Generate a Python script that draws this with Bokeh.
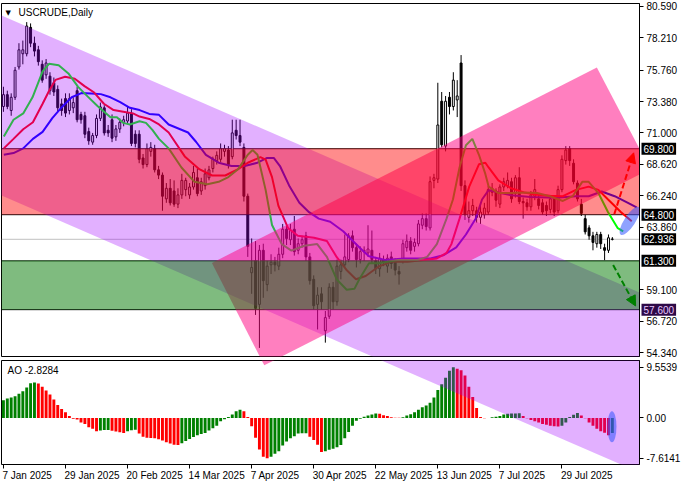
from bokeh.plotting import figure
from bokeh.layouts import column
from bokeh.models import (FixedTicker, LinearAxis, Range1d, Label, Arrow, NormalHead,
                          PrintfTickFormatter, Span)
from bokeh.embed import file_html
from bokeh.resources import INLINE

# ---------------- data ----------------
opens = [73.0, 73.9, 72.7, 73.7, 76.0, 77.0, 77.0, 79.0, 77.8, 77.3,
         76.2, 75.4, 75.3, 74.8, 74.3, 73.2, 73.6, 72.7, 72.9, 74.2,
         72.4, 72.3, 71.1, 70.3, 70.8, 72.1, 72.9, 71.2, 72.0, 70.7,
         71.3, 71.8, 71.9, 72.5, 70.9, 70.9, 69.1, 68.6, 69.6, 69.8,
         68.2, 67.8, 66.0, 66.8, 66.6, 65.6, 66.3, 66.7, 66.3, 66.9,
         67.6, 66.6, 67.0, 67.6, 68.3, 68.9, 69.0, 69.6, 69.7, 69.2,
         71.2, 70.8, 69.9, 66.2, 60.4, 61.3, 58.0, 62.1, 59.5, 61.0,
         61.2, 60.9, 61.8, 63.7, 62.9, 63.7, 62.1, 62.6, 63.2, 61.6,
         59.9, 58.0, 58.8, 56.0, 57.1, 59.3, 58.2, 60.5, 61.0, 61.4,
         63.2, 62.3, 61.4, 62.0, 61.9, 62.1, 61.3, 60.7, 61.4, 60.9,
         61.6, 61.3, 60.5, 61.4, 62.3, 62.8, 62.4, 62.6, 64.0, 64.5,
         63.8, 67.4, 67.5, 73.4, 70.0, 73.7, 73.0, 73.5, 76.3, 67.0,
         64.6, 65.1, 65.1, 64.6, 64.8, 65.0, 66.5, 66.6, 65.6, 66.9,
         67.0, 67.3, 66.4, 67.6, 65.8, 65.7, 65.4, 66.2, 66.0, 65.7,
         65.5, 65.2, 66.0, 65.1, 66.7, 68.9, 69.8, 68.7, 67.2, 65.6,
         64.5, 63.8, 63.2, 62.6, 63.3, 62.3, 62.1, 62.95]
highs = [74.5, 74.2, 74.0, 76.0, 77.8, 78.0, 79.4, 79.3, 78.3, 77.6,
         76.5, 76.6, 75.6, 75.2, 74.6, 73.6, 74.0, 74.0, 73.7, 74.5,
         72.6, 72.6, 71.4, 71.0, 72.4, 73.3, 73.1, 71.6, 72.4, 71.6,
         72.1, 72.3, 73.0, 72.8, 71.2, 71.2, 69.4, 70.2, 70.3, 70.1,
         68.5, 68.0, 67.2, 67.5, 67.4, 66.8, 67.9, 67.6, 67.2, 68.5,
         68.3, 67.6, 68.3, 68.5, 69.2, 69.6, 70.2, 70.1, 70.0, 72.0,
         72.0, 72.0, 70.2, 66.4, 63.0, 62.8, 62.5, 62.6, 61.3, 61.8,
         61.6, 62.3, 64.1, 64.0, 64.1, 64.7, 63.0, 63.2, 63.5, 61.9,
         60.2, 59.3, 59.3, 57.5, 59.6, 59.7, 61.4, 61.4, 63.3, 63.4,
         63.6, 62.6, 62.4, 62.4, 64.0, 63.6, 61.6, 61.9, 61.7, 61.8,
         62.0, 61.5, 60.9, 62.9, 63.3, 63.1, 63.0, 64.4, 64.9, 64.9,
         67.7, 67.9, 74.8, 74.1, 73.8, 74.1, 75.6, 75.0, 76.9, 67.4,
         65.8, 66.0, 65.4, 65.5, 65.7, 67.0, 67.2, 66.8, 67.1, 67.6,
         68.0, 67.6, 67.8, 68.4, 66.1, 66.0, 66.6, 67.5, 66.3, 66.0,
         65.8, 66.3, 66.2, 67.0, 69.3, 70.0, 70.0, 69.0, 67.4, 66.0,
         64.8, 64.0, 63.5, 63.5, 63.5, 62.6, 63.3, 63.1]
lows = [72.6, 72.8, 72.3, 73.5, 75.8, 76.2, 76.8, 77.5, 76.8, 76.1,
        74.8, 75.1, 73.9, 73.8, 72.6, 72.3, 72.2, 72.4, 72.5, 71.8,
        71.7, 70.6, 70.1, 70.1, 70.6, 71.9, 70.8, 70.7, 70.3, 70.4,
        71.0, 71.5, 71.7, 70.0, 69.9, 68.7, 68.3, 68.4, 69.2, 68.0,
        67.5, 65.1, 65.7, 65.5, 65.4, 65.3, 66.0, 66.2, 66.0, 66.7,
        66.2, 66.3, 66.7, 67.4, 68.0, 68.6, 68.8, 69.2, 68.3, 69.0,
        70.5, 70.0, 65.8, 61.6, 58.8, 57.2, 54.7, 58.5, 59.0, 60.3,
        60.5, 60.6, 61.5, 62.5, 62.5, 61.7, 61.8, 62.3, 61.3, 59.5,
        57.6, 56.1, 57.6, 55.1, 56.9, 57.6, 57.9, 59.9, 60.8, 61.2,
        62.0, 60.8, 61.1, 61.3, 61.6, 61.1, 60.3, 60.1, 60.9, 60.4,
        60.7, 60.2, 59.5, 61.1, 62.0, 61.8, 62.0, 62.4, 63.7, 63.6,
        63.6, 66.8, 67.2, 69.9, 69.6, 72.4, 72.7, 72.2, 66.6, 64.4,
        64.2, 64.7, 64.2, 64.1, 64.5, 64.8, 66.2, 65.4, 65.3, 66.6,
        66.8, 65.7, 66.1, 65.6, 64.5, 65.1, 65.1, 65.9, 65.2, 64.8,
        64.7, 64.9, 64.7, 64.9, 66.5, 68.6, 68.5, 67.1, 65.8, 64.7,
        63.3, 62.9, 62.1, 62.3, 62.2, 61.35, 61.9, 62.85]
closes = [73.9, 73.0, 73.7, 75.75, 77.3, 77.3, 79.1, 77.8, 77.2, 76.4,
          75.0, 76.3, 74.2, 74.1, 72.9, 72.7, 72.5, 73.6, 73.3, 72.0,
          72.0, 70.9, 70.4, 70.8, 72.1, 72.97, 71.0, 71.0, 70.6, 71.3,
          71.8, 72.0, 72.5, 70.2, 70.2, 69.0, 68.6, 69.8, 69.9, 68.2,
          67.8, 66.2, 66.8, 65.7, 65.6, 66.3, 67.4, 67.4, 66.9, 68.0,
          66.4, 67.3, 67.9, 68.2, 69.0, 69.3, 69.8, 69.8, 68.6, 71.0,
          70.8, 70.3, 66.2, 62.4, 60.8, 57.7, 62.1, 59.8, 60.9, 61.2,
          61.0, 61.8, 63.7, 63.0, 63.6, 62.0, 62.6, 62.9, 61.6, 59.8,
          57.9, 58.7, 58.2, 57.0, 59.3, 58.2, 60.9, 61.0, 61.6, 63.2,
          62.3, 61.4, 62.0, 62.1, 62.2, 61.4, 60.7, 61.5, 61.2, 61.5,
          61.1, 60.6, 60.3, 62.6, 62.8, 62.1, 62.7, 64.1, 64.5, 63.9,
          67.3, 67.6, 71.6, 70.1, 73.4, 73.0, 75.0, 73.8, 67.0, 64.8,
          65.1, 65.5, 64.6, 65.0, 65.3, 66.7, 66.8, 65.9, 66.9, 67.3,
          67.4, 66.0, 67.6, 65.8, 65.7, 65.4, 66.3, 66.7, 65.5, 65.0,
          65.1, 66.0, 65.0, 66.7, 69.0, 69.7, 68.9, 67.3, 66.0, 64.9,
          63.5, 63.2, 62.7, 63.3, 62.6, 62.1, 63.05, 62.936]

ao_values = [3.36, 3.66, 3.84, 4.08, 4.56, 5.05, 5.77, 6.55, 6.67, 6.49,
             5.89, 5.17, 4.44, 3.48, 2.46, 1.68, 1.08, 0.36, -0.12, -0.30,
             -0.84, -1.14, -1.74, -2.04, -2.52, -2.34, -2.28, -2.26, -2.40, -2.55,
             -2.70, -2.82, -2.50, -2.30, -2.22, -2.94, -3.54, -3.72, -3.78, -3.84,
             -4.02, -4.26, -4.56, -4.80, -5.05, -5.10, -4.74, -4.32, -3.96, -3.60,
             -3.24, -3.00, -2.82, -2.34, -1.92, -1.44, -0.60, -0.24, 0.18, 0.66,
             1.26, 1.56, 1.26, 0.18, -1.56, -3.72, -5.95, -7.33, -7.6141, -7.33,
             -6.73, -6.25, -5.17, -4.44, -3.84, -3.42, -2.94, -2.90, -2.86, -3.54,
             -4.14, -5.05, -6.40, -6.25, -6.00, -5.80, -5.50, -5.10, -3.84, -2.64,
             -1.44, -0.54, -0.12, 0.24, 0.48, 0.66, 0.84, 0.78, 0.54, 0.36,
             0.12, 0.06, 0.04, 0.12, 0.48, 0.72, 1.08, 1.56, 2.04, 2.34,
             2.88, 3.84, 5.29, 6.37, 7.57, 8.89, 9.5539, 9.30, 9.00, 8.00,
             5.90, 3.96, 1.86, 0.18, -0.06, 0.02, 0.12, 0.24, 0.36, 0.66,
             0.80, 0.84, 0.86, 0.88, 0.36, -0.06, -0.36, -0.60, -0.84, -1.14,
             -1.26, -1.44, -1.56, -1.60, -1.44, -0.84, 0.18, 0.60, 0.96, 0.48,
             -0.05, -0.84, -1.44, -2.04, -2.52, -2.76, -3.24, -2.8284]

# Alligator lines (bar index, price)
jaw_i = [0.1, 2.6, 5.1, 7.6, 10.1, 12.6, 15.1, 17.6, 20.1, 22.6,
         25.1, 27.6, 30.1, 32.6, 35.1, 37.6, 40.1, 42.6, 47.6, 49.7,
         52.2, 55.5, 58.8, 62.2, 65.5, 68.0, 69.7, 71.3, 73.8, 76.3,
         78.8, 81.3, 84.25, 87.6, 90.1, 92.6, 94.25, 98.4, 103.4, 110.1,
         113.4, 116.75, 119.25, 121.75, 123.4, 125.1, 127.6, 130.9, 135.9, 142.6,
         147.6, 150.9, 154.25, 157.6, 160.9, 163.25]
jaw_p = [69.34, 69.47, 69.83, 70.55, 71.08, 72.12, 72.97, 73.70, 74.02, 73.99,
         73.94, 73.70, 73.33, 72.90, 72.73, 72.44, 72.37, 71.64, 71.03, 70.31,
         69.34, 68.74, 68.49, 68.49, 68.74, 69.10, 69.10, 68.49, 66.93, 65.71,
         64.99, 64.50, 64.26, 63.54, 62.81, 62.08, 61.65, 61.36, 61.48, 61.48,
         61.72, 62.32, 63.30, 64.50, 65.95, 66.66, 66.49, 66.27, 66.15, 66.08,
         66.20, 66.20, 66.56, 66.20, 65.71, 65.35]
teeth_i = [0.1, 2.6, 5.1, 7.6, 10.1, 11.75, 13.4, 15.9, 18.4, 20.9,
           23.4, 25.9, 28.4, 30.9, 33.4, 35.1, 37.6, 40.1, 42.6, 46.75,
           50.5, 53.8, 57.2, 60.5, 63.0, 66.25, 67.6, 69.25, 70.9, 73.4,
           75.9, 80.1, 83.4, 85.9, 88.4, 90.9, 93.4, 96.75, 100.1, 104.25,
           108.4, 111.75, 114.25, 115.5, 117.6, 120.1, 122.6, 124.25, 125.1, 127.6,
           130.9, 134.25, 137.6, 140.9, 144.25, 147.6, 150.9, 153.4, 155.9, 159.25,
           162.0]
teeth_p = [69.83, 70.55, 71.28, 71.81, 73.21, 74.18, 75.02, 75.26, 75.10, 74.55,
           74.06, 73.21, 72.73, 72.61, 72.48, 72.24, 72.06, 71.64, 71.03, 69.22,
           68.25, 67.77, 67.77, 68.25, 68.74, 69.16, 68.98, 67.65, 65.47, 63.78,
           63.21, 63.05, 62.81, 61.60, 60.63, 59.91, 60.15, 60.87, 61.24, 61.24,
           61.36, 61.48, 61.90, 62.57, 64.50, 66.93, 68.62, 68.74, 68.38, 67.40,
           66.80, 66.49, 66.32, 66.24, 66.20, 66.68, 66.93, 66.68, 65.95, 64.99,
           64.31]
lips_i = [0.1, 2.6, 5.1, 7.5, 10.1, 11.75, 14.25, 16.75, 19.25, 21.75,
          24.25, 27.6, 29.25, 30.9, 32.6, 35.1, 36.75, 38.4, 40.1, 42.6,
          45.9, 49.25, 52.6, 55.5, 58.0, 60.5, 63.0, 64.25, 65.5, 67.6,
          69.25, 71.75, 74.25, 77.6, 80.9, 83.4, 85.9, 88.5, 90.5, 91.75,
          94.25, 96.75, 101.75, 106.75, 109.25, 111.75, 114.25, 115.9, 117.6, 119.25,
          120.9, 122.6, 124.25, 125.1, 127.6, 130.9, 134.25, 137.6, 140.9, 144.25,
          146.75, 149.25, 150.9, 153.4, 155.9, 158.4, 159.8]
lips_p = [70.72, 72.0, 72.48, 73.70, 75.66, 76.24, 76.13, 75.51, 74.49, 73.75,
          73.04, 72.19, 72.19, 71.76, 71.64, 71.88, 71.76, 71.23, 70.55, 69.83,
          68.38, 67.29, 67.11, 67.29, 67.65, 68.25, 69.34, 69.70, 69.34, 66.68,
          64.02, 62.57, 62.08, 62.45, 62.57, 61.60, 59.91, 59.11, 59.18, 59.91,
          61.12, 61.12, 61.36, 61.36, 61.60, 62.57, 64.50, 65.95, 68.38, 70.07,
          70.55, 69.34, 67.89, 66.93, 66.44, 66.44, 66.49, 66.44, 66.20, 65.84,
          66.20, 67.29, 67.29, 66.44, 64.99, 63.78, 63.54]

date_tick_bars = [0, 16, 32, 48, 64, 80, 96, 112, 128, 144]
date_tick_labels = ["7 Jan 2025", "29 Jan 2025", "20 Feb 2025", "14 Mar 2025", "7 Apr 2025",
                    "30 Apr 2025", "22 May 2025", "13 Jun 2025", "7 Jul 2025", "29 Jul 2025"]
price_ticks = [54.34, 56.72, 59.10, 63.86, 66.24, 68.62, 71.00, 73.38, 75.76, 78.21, 80.59]
ao_ticks = [-7.6141, 0.0, 9.5539]
ao_tick_labels = ["-7.6141", "0.00", "9.5539"]

red_zone = [64.8, 69.8]
green_zone = [57.6, 61.3]
last_price = 62.936
level_values = [69.8, 64.8, 62.936, 61.3, 57.6]

# drawing objects (bar index, price)
purple_ch_i = [-2.0, 170.0, 170.0, -2.0]
purple_ch_p = [80.10, 58.13, 44.49, 66.45]
pink_ch_i = [53.75, 153.0, 166.75, 67.25]
pink_ch_p = [61.14, 75.95, 68.25, 53.38]
up_arrow = [157.5, 64.84, 162.5, 69.49]
down_arrow = [157.2, 60.99, 163.0, 57.88]
price_ellipse = [161.5, 64.33]
ao_ellipse = [156.9, -1.65]

title_text = "USCRUDE,Daily"
ao_text = "AO -2.8284"

# ---------------- layout ----------------
FONT = "Liberation Sans"
FW = 638
MAIN_FH = 353
AO_FH = 104
RIGHT = 45
MAIN_TOP, MAIN_BOT = 3, 3
AO_TOP, AO_BOT = 1, 20
GAP = MAIN_BOT + AO_TOP
X_LO, X_HI = -0.5, 164.0
P_LO, P_HI = 54.05, 80.81
A_LO, A_HI = -8.77, 10.84
PPB = FW / (X_HI - X_LO)

N = len(closes)
bars = list(range(N))


def price_to_ao(p):
    px_below = (P_LO - p) * MAIN_FH / (P_HI - P_LO) - GAP
    return A_HI - px_below * (A_HI - A_LO) / AO_FH


CW = {' ': 278, 'J': 500, 'a': 556, 'n': 556, 'F': 611, 'e': 556, 'b': 556,
      'M': 833, 'r': 333, 'A': 667, 'p': 556, 'y': 500, 'u': 556, 'l': 222}


def text_w(s, px=10):
    return sum(CW.get(c, 556) for c in s) * px / 1000.0


main = figure(frame_width=FW, frame_height=MAIN_FH,
              x_range=Range1d(X_LO, X_HI), y_range=Range1d(P_LO, P_HI),
              x_axis_location=None, y_axis_location="right",
              output_backend="svg", toolbar_location=None,
              min_border_left=1, min_border_right=RIGHT,
              min_border_top=MAIN_TOP, min_border_bottom=MAIN_BOT,
              outline_line_color="black", background_fill_color="white",
              border_fill_color="white")
main.xgrid.visible = False
main.ygrid.visible = False

# price line & zone borders (beneath)
main.add_layout(Span(location=last_price, dimension="width", line_color="#C0C0C0",
                     line_width=1, level="underlay"))
for lv in red_zone + green_zone:
    main.add_layout(Span(location=lv, dimension="width", line_color="black",
                         line_width=1, level="underlay"))

# candles
body_lo = [min(o, c) for o, c in zip(opens, closes)]
body_hi = [max(o, c) for o, c in zip(opens, closes)]
body_fill = ["white" if c >= o else "black" for o, c in zip(opens, closes)]
main.segment(x0=bars, y0=lows, x1=bars, y1=highs, line_color="black", line_width=1)
main.vbar(x=bars, bottom=body_lo, top=body_hi, width=0.5, fill_color=body_fill,
          line_color="black", line_width=1)

# alligator
main.line(jaw_i, jaw_p, line_color="#0000FF", line_width=2)
main.line(teeth_i, teeth_p, line_color="#FF0000", line_width=2)
main.line(lips_i, lips_p, line_color="#00FF00", line_width=2)

# overlays
main.patch(purple_ch_i, purple_ch_p, fill_color="#A000FF", fill_alpha=0.31, line_color=None)
main.patch(pink_ch_i, pink_ch_p, fill_color="#FF0080", fill_alpha=0.5, line_color=None)
main.hstrip(y0=[red_zone[0]], y1=[red_zone[1]], fill_color="#FF0000", fill_alpha=0.45,
            line_color=None)
main.hstrip(y0=[green_zone[0]], y1=[green_zone[1]], fill_color="#007800", fill_alpha=0.5,
            line_color=None)

main.ellipse(x=[price_ellipse[0]], y=[price_ellipse[1]], width=33, height=11, angle=0.99,
             width_units="screen", height_units="screen",
             fill_color="#3355FF", fill_alpha=0.55, line_color=None)

main.add_layout(Arrow(end=NormalHead(size=10, fill_color="#FF0000", line_color="#FF0000"),
                      x_start=up_arrow[0], y_start=up_arrow[1],
                      x_end=up_arrow[2], y_end=up_arrow[3],
                      line_color="#FF0000", line_width=2, line_dash="6 3"))
main.add_layout(Arrow(end=NormalHead(size=10, fill_color="#008000", line_color="#008000"),
                      x_start=down_arrow[0], y_start=down_arrow[1],
                      x_end=down_arrow[2], y_end=down_arrow[3],
                      line_color="#008000", line_width=2, line_dash="6 3"))

# axis
ya = main.yaxis[0]
ya.ticker = FixedTicker(ticks=price_ticks)
ya.formatter = PrintfTickFormatter(format="%.3f")
ya.major_tick_out = 4
ya.major_tick_in = 0
ya.minor_tick_line_color = None
ya.axis_line_color = "black"
ya.major_label_standoff = 3
ya.major_label_text_font = FONT
ya.major_label_text_font_size = "10px"
ya.major_label_text_color = "black"

# level boxes on the price scale (side panel, so they are not clipped to the frame)
for lv in level_values:
    dark = lv == green_zone[0]
    main.add_layout(Label(x=X_HI + 2.0 / PPB, y=lv, x_units="data", y_units="data",
                          text=f"{lv:.3f}", text_font=FONT, text_font_size="10px",
                          text_color="#E8C8FF" if dark else "white",
                          text_baseline="middle", text_align="left",
                          background_fill_color="#2E0A48" if dark else "black",
                          background_fill_alpha=1.0, padding=2), "right")

main.add_layout(Label(x=4, y=MAIN_FH - 9, x_units="screen", y_units="screen", text="▼",
                      text_font="DejaVu Sans", text_font_size="7px", text_color="black",
                      text_baseline="middle"))
main.add_layout(Label(x=17, y=MAIN_FH - 9, x_units="screen", y_units="screen",
                      text=title_text, text_font=FONT, text_font_size="10px",
                      text_color="black", text_baseline="middle"))

# ---------------- AO panel ----------------
ao = figure(frame_width=FW, frame_height=AO_FH, x_range=main.x_range,
            y_range=Range1d(A_LO, A_HI), x_axis_location=None, y_axis_location="right",
            output_backend="svg", toolbar_location=None,
            min_border_left=1, min_border_right=RIGHT, min_border_top=AO_TOP,
            min_border_bottom=AO_BOT,
            outline_line_color="black", background_fill_color="white",
            border_fill_color="white")
ao.xgrid.visible = False
ao.ygrid.visible = False

ao_colors = []
for k, v in enumerate(ao_values):
    if k == 0 or v > ao_values[k - 1]:
        ao_colors.append("#008000")
    else:
        ao_colors.append("#FF0000")
ao.vbar(x=bars, bottom=0, top=ao_values, width=0.75, fill_color=ao_colors, line_color=None)

ao.patch(purple_ch_i, [price_to_ao(p) for p in purple_ch_p], fill_color="#A000FF",
         fill_alpha=0.31, line_color=None)
ao.patch(pink_ch_i, [price_to_ao(p) for p in pink_ch_p], fill_color="#FF0080",
         fill_alpha=0.5, line_color=None)
ao.ellipse(x=[ao_ellipse[0]], y=[ao_ellipse[1]], width=9, height=31,
           width_units="screen", height_units="screen",
           fill_color="#3355FF", fill_alpha=0.55, line_color=None)

aya = ao.yaxis[0]
aya.ticker = FixedTicker(ticks=ao_ticks)
aya.major_label_overrides = {t: s for t, s in zip(ao_ticks, ao_tick_labels)}
aya.major_tick_out = 4
aya.major_tick_in = 0
aya.minor_tick_line_color = None
aya.axis_line_color = "black"
aya.major_label_standoff = 3
aya.major_label_text_font = FONT
aya.major_label_text_font_size = "10px"
aya.major_label_text_color = "black"

ao.add_layout(Label(x=6, y=AO_FH - 10, x_units="screen", y_units="screen", text=ao_text,
                    text_font=FONT, text_font_size="10px", text_color="black",
                    text_baseline="middle"))

# date axis: tick marks at the bars, labels starting at the ticks
tick_axis = LinearAxis(ticker=FixedTicker(ticks=date_tick_bars),
                       major_tick_out=4, major_tick_in=0, minor_tick_line_color=None,
                       axis_line_color=None, major_label_text_color=None,
                       major_label_text_font_size="1px", major_label_standoff=0,
                       major_label_overrides={t: "" for t in date_tick_bars})
label_pos = [round(t + (text_w(s) / 2.0 - 1.0) / PPB, 3)
             for t, s in zip(date_tick_bars, date_tick_labels)]
label_axis = LinearAxis(ticker=FixedTicker(ticks=label_pos),
                        major_tick_line_color=None, major_tick_out=0, major_tick_in=0,
                        minor_tick_line_color=None, axis_line_color=None,
                        major_label_standoff=1, major_label_text_font=FONT,
                        major_label_text_font_size="10px", major_label_text_color="black",
                        major_label_overrides={p: s for p, s in zip(label_pos, date_tick_labels)})
ao.add_layout(tick_axis, "below")
ao.add_layout(label_axis, "below")

layout = column(main, ao)
open("out.html", "w").write(file_html(layout, INLINE))
